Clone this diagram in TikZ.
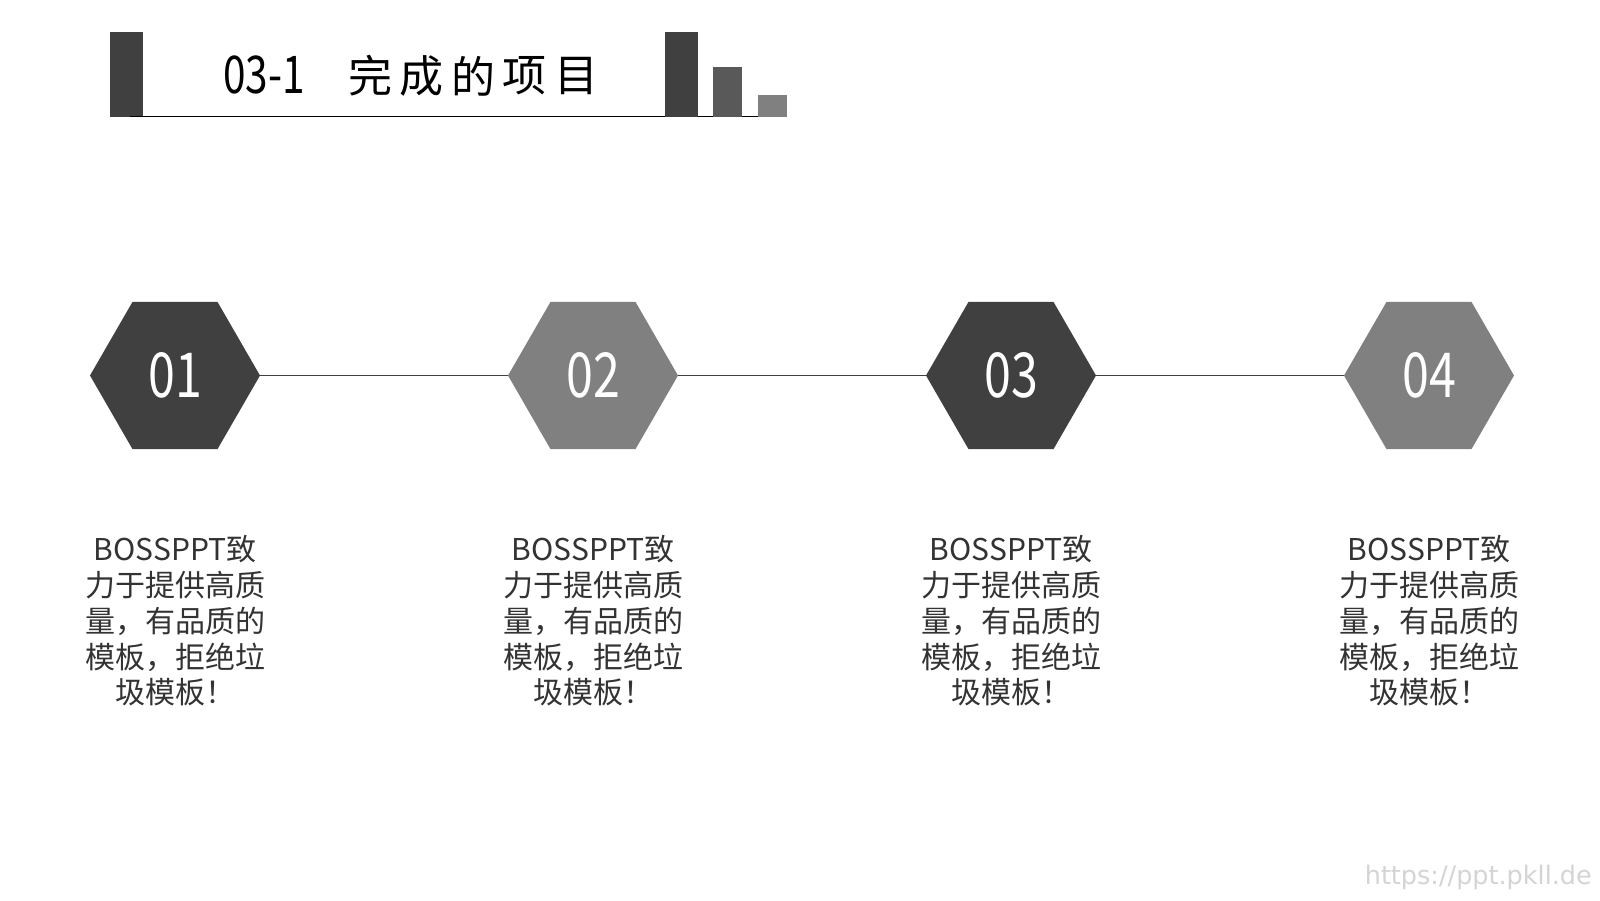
\documentclass[tikz,border=0pt]{standalone}
\usepackage{fontspec}
\usetikzlibrary{shapes.geometric}
\setmainfont{Noto Sans CJK SC}
\newfontfamily\cjk{Noto Sans CJK SC}
\newfontfamily\numfont[FakeStretch=0.78]{Noto Sans CJK SC}
\newfontfamily\wmfont{DejaVu Sans}
\definecolor{dk}{HTML}{404040}
\definecolor{md}{HTML}{595959}
\definecolor{lt}{HTML}{808080}
\definecolor{txt}{HTML}{333333}
\definecolor{wm}{HTML}{D4D4D4}
\begin{document}
\begin{tikzpicture}[x=1pt,y=-1pt,
  hexa/.style={regular polygon, regular polygon sides=6, minimum size=170pt, inner sep=0pt, draw=none, text=white, font=\numfont\fontsize{62}{62}\selectfont},
  conn/.style={draw=dk, line width=1.4pt},
  body/.style={align=center, text=txt, inner sep=0pt, font=\cjk\fontsize{30}{35.8}\selectfont},
  ttl/.style={text=black, inner sep=0pt, font=\cjk\fontsize{44}{44}\selectfont}]
\fill[white] (0,0) rectangle (1600,900);
\useasboundingbox (0,0) rectangle (1600,900);
% header
\fill[dk] (110,32) rectangle (143,117);
\draw[black, line width=1.2pt] (130,116.5) -- (772,116.5);
\fill[dk] (665,32) rectangle (698,117);
\fill[md] (713,67) rectangle (742,117);
\fill[lt] (758,95) rectangle (787,117);
\node[ttl, font=\numfont\fontsize{52}{52}\selectfont] (t0) at (264,75) {03-1};
\node[ttl] (t1) at (370,76) {完};
\node[ttl] (t2) at (421.5,76) {成};
\node[ttl] (t3) at (473,76) {的};
\node[ttl] (t4) at (524.5,76) {项};
\node[ttl] (t5) at (576,76) {目};
% hexagons
\node[hexa, fill=dk] (h1) at (175,375.5) {01};
\node[hexa, fill=lt] (h2) at (593,375.5) {02};
\node[hexa, fill=dk] (h3) at (1011,375.5) {03};
\node[hexa, fill=lt] (h4) at (1429,375.5) {04};
\draw[conn] (h1.east) -- (h2.west);
\draw[conn] (h2.east) -- (h3.west);
\draw[conn] (h3.east) -- (h4.west);
% texts
\foreach \i/\x in {1/175,2/593,3/1011,4/1429}{
  \node[body] (b\i) at (\x,621) {BOSSPPT致\\力于提供高质\\量，有品质的\\模板，拒绝垃\\圾模板！};
}
\node[text=wm, inner sep=0pt, anchor=east, font=\wmfont\fontsize{25.5}{25.5}\selectfont] (wmk) at (1592,877) {https://ppt.pkll.de};
\end{tikzpicture}
\end{document}
